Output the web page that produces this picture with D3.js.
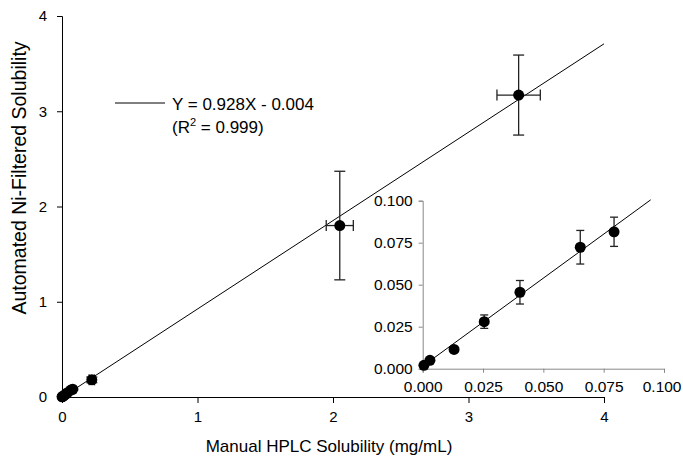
<!DOCTYPE html>
<html>
<head>
<meta charset="utf-8">
<script src="https://cdn.jsdelivr.net/npm/d3@7"></script>
<style>
  body { margin: 0; background: #fff; }
  svg { font-family: "Liberation Sans", Arial, sans-serif; }
</style>
</head>
<body>
<div id="chart"></div>
<script>
// main panel data (mg/mL)
const mainX    = [2.05, 3.37, 0.22];
const mainY    = [1.80, 3.17, 0.18];
const mainXErr = [0.10, 0.16, 0.02];
const mainYErr = [0.57, 0.42, 0.03];

// inset data (low solubility points)
const insetX    = [0.0005, 0.003, 0.013, 0.0255, 0.0403, 0.0653, 0.0793];
const insetY    = [0.002, 0.005, 0.0115, 0.028, 0.0455, 0.0723, 0.0815];
const insetYErr = [0, 0, 0, 0.004, 0.007, 0.010, 0.0087];

const mainTicks  = [0, 1, 2, 3, 4];
const insetTicks = [0, 0.025, 0.05, 0.075, 0.1];

const fitSlope = 0.928, fitIntercept = -0.004;
const insetSlope = 1.048, insetIntercept = 0.0015, insetFitEnd = 0.0945;

const width = 683, height = 460;
const svg = d3.select("#chart").append("svg")
    .attr("width", width)
    .attr("height", height);

// main scales
let x = d3.scaleLinear().domain([0, 4]).range([62, 604]);
let y = d3.scaleLinear().domain([0, 4]).range([397, 16]);

// all points (main + inset values shown at main scale)
let pts = mainX.map((d, i) => ({x: d, y: mainY[i], xe: mainXErr[i], ye: mainYErr[i]}));
insetX.forEach((d, i) => pts.push({x: d, y: insetY[i], xe: 0, ye: insetYErr[i]}));

// axes
let xAxis = svg.append("g")
    .attr("transform", "translate(0," + y(0) + ")")
    .call(d3.axisBottom(x).tickValues(mainTicks).tickSize(6).tickPadding(8).tickFormat(d3.format("d")));
let yAxis = svg.append("g")
    .attr("transform", "translate(" + x(0) + ",0)")
    .call(d3.axisLeft(y).tickValues(mainTicks).tickSize(5).tickPadding(10).tickFormat(d3.format("d")));
[xAxis, yAxis].forEach(function (g) {
    g.select(".domain").attr("stroke", "#000");
    g.selectAll(".tick line").attr("stroke", "#000");
    g.selectAll("text").attr("font-size", 15).attr("fill", "#000")
        .attr("font-family", "Liberation Sans, Arial, sans-serif");
});

// regression line
svg.append("line")
    .attr("x1", x(0)).attr("y1", y(fitIntercept))
    .attr("x2", x(4)).attr("y2", y(fitSlope * 4 + fitIntercept))
    .attr("stroke", "#000").attr("stroke-width", 1);

// error bars
let eb = svg.append("g").attr("stroke", "#222").attr("stroke-width", 1.3);
pts.forEach(function (p) {
    if (p.ye > 0) {
        eb.append("line").attr("x1", x(p.x)).attr("x2", x(p.x)).attr("y1", y(p.y - p.ye)).attr("y2", y(p.y + p.ye));
        [p.y - p.ye, p.y + p.ye].forEach(v => eb.append("line")
            .attr("x1", x(p.x) - 5.5).attr("x2", x(p.x) + 5.5).attr("y1", y(v)).attr("y2", y(v)));
    }
    if (p.xe > 0) {
        eb.append("line").attr("y1", y(p.y)).attr("y2", y(p.y)).attr("x1", x(p.x - p.xe)).attr("x2", x(p.x + p.xe));
        [p.x - p.xe, p.x + p.xe].forEach(v => eb.append("line")
            .attr("y1", y(p.y) - 5.5).attr("y2", y(p.y) + 5.5).attr("x1", x(v)).attr("x2", x(v)));
    }
});

svg.selectAll(".dot")
    .data(pts)
    .enter()
    .append("circle")
    .attr("class", "dot")
    .attr("cx", d => x(d.x))
    .attr("cy", d => y(d.y))
    .attr("r", 5.5)
    .attr("fill", "#000");

// legend
svg.append("line").attr("x1", 115).attr("x2", 165).attr("y1", 103).attr("y2", 103)
    .attr("stroke", "#000").attr("stroke-width", 1);
let leg = svg.append("text").attr("x", 172).attr("y", 110).attr("font-size", 17);
leg.text("Y = " + fitSlope + "X - " + Math.abs(fitIntercept));
let leg2 = svg.append("text").attr("x", 172).attr("y", 133).attr("font-size", 17);
leg2.append("tspan").text("(R");
leg2.append("tspan").attr("font-size", 11).attr("dy", -7).text("2");
leg2.append("tspan").attr("dy", 7).text(" = 0.999)");

// axis titles
svg.append("text")
    .attr("x", 329).attr("y", 452)
    .attr("text-anchor", "middle")
    .attr("font-size", 17)
    .text("Manual HPLC Solubility (mg/mL)");
svg.append("text")
    .attr("transform", "translate(26,178) rotate(-90)")
    .attr("text-anchor", "middle")
    .attr("font-size", 19.5)
    .text("Automated Ni-Filtered Solubility");

// ---- inset ----
let ix = d3.scaleLinear().domain([0, 0.1]).range([422.7, 664]);
let iy = d3.scaleLinear().domain([0, 0.1]).range([368.7, 200.7]);

let ixAxis = svg.append("g")
    .attr("transform", "translate(0," + iy(0) + ")")
    .call(d3.axisBottom(ix).tickValues(insetTicks).tickSize(4).tickPadding(8).tickFormat(d3.format(".3f")));
let iyAxis = svg.append("g")
    .attr("transform", "translate(" + ix(0) + ",0)")
    .call(d3.axisLeft(iy).tickValues(insetTicks).tickSize(4).tickPadding(6).tickFormat(d3.format(".3f")));
[ixAxis, iyAxis].forEach(function (g) {
    g.select(".domain").attr("stroke", "#888");
    g.selectAll(".tick line").attr("stroke", "#888");
    g.selectAll("text").attr("font-size", 15.5).attr("fill", "#000")
        .attr("font-family", "Liberation Sans, Arial, sans-serif");
});
// keep the last inset label inside the picture
ixAxis.selectAll(".tick text").filter(d => d === 0.1).attr("text-anchor", "end").attr("x", 17);

svg.append("line")
    .attr("x1", ix(0)).attr("y1", iy(insetIntercept))
    .attr("x2", ix(insetFitEnd)).attr("y2", iy(insetSlope * insetFitEnd + insetIntercept))
    .attr("stroke", "#000").attr("stroke-width", 1);

let ieb = svg.append("g").attr("stroke", "#222").attr("stroke-width", 1.3);
insetX.forEach(function (d, i) {
    let e = insetYErr[i];
    if (e <= 0) return;
    ieb.append("line").attr("x1", ix(d)).attr("x2", ix(d)).attr("y1", iy(insetY[i] - e)).attr("y2", iy(insetY[i] + e));
    [insetY[i] - e, insetY[i] + e].forEach(v => ieb.append("line")
        .attr("x1", ix(d) - 4).attr("x2", ix(d) + 4).attr("y1", iy(v)).attr("y2", iy(v)));
});

svg.selectAll(".idot")
    .data(insetX)
    .enter()
    .append("circle")
    .attr("class", "idot")
    .attr("cx", d => ix(d))
    .attr("cy", (d, i) => iy(insetY[i]))
    .attr("r", 5.5)
    .attr("fill", "#000");
</script>
</body>
</html>
